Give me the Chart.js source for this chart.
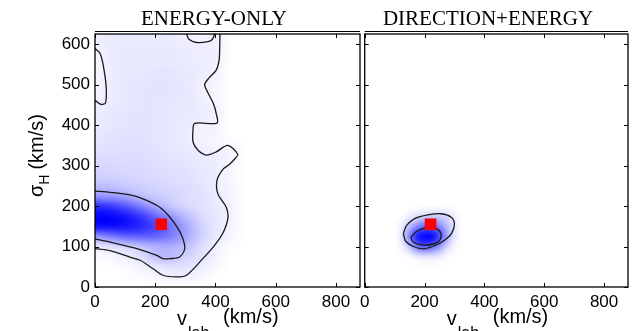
<!DOCTYPE html>
<html>
<head>
<meta charset="utf-8">
<script src="https://cdn.jsdelivr.net/npm/chart.js@4.4.1/dist/chart.umd.min.js"></script>
<style>
  html, body { margin: 0; padding: 0; background: #fff; }
  #wrap { position: relative; width: 634px; height: 331px; overflow: hidden; }
  #wrap canvas { position: absolute; top: 0; }
  #left { left: 0; }
  #right { left: 355px; }
</style>
</head>
<body>
<div id="wrap">
  <canvas id="left" width="362" height="331"></canvas>
  <canvas id="right" width="279" height="331"></canvas>
</div>
<script>
const xTicks = [0, 200, 400, 600, 800];
const yTicks = [0, 100, 200, 300, 400, 500, 600];
const vMax = 880;
const sigmaMax = 625;

// true halo parameters (v_lab, sigma_H)
const truePoint = [{ x: 220, y: 155 }];

// energy-only posterior density, 50 km/s x 25 km/s grid
const eoV = [0, 50, 100, 150, 200, 250, 300, 350, 400, 450, 500];
const eoSigma = [625, 600, 575, 550, 525, 500, 475, 450, 425, 400, 375, 350, 325,
                 300, 275, 250, 225, 200, 175, 150, 125, 100, 75, 50, 25, 0];
const eoDensity = [
  [.04, .05, .05, .05, .05, .05, .03, .02, .04, 0, 0],
  [.035, .05, .05, .05, .05, .05, .04, .035, .04, 0, 0],
  [.02, .045, .06, .06, .06, .06, .05, .045, .04, 0, 0],
  [.02, .045, .06, .06, .06, .06, .05, .045, .035, 0, 0],
  [.02, .045, .06, .06, .07, .07, .06, .045, .03, 0, 0],
  [.02, .045, .06, .07, .07, .07, .06, .035, .02, 0, 0],
  [.02, .045, .06, .07, .07, .07, .06, .04, .02, 0, 0],
  [.035, .05, .06, .07, .07, .06, .06, .045, .03, 0, 0],
  [.045, .06, .07, .07, .07, .06, .06, .045, .035, 0, 0],
  [.05, .06, .07, .07, .07, .06, .05, .035, .03, 0, 0],
  [.06, .07, .08, .08, .07, .06, .045, .025, .02, 0, 0],
  [.07, .08, .08, .08, .07, .06, .05, .035, .02, .015, 0],
  [.09, .09, .09, .09, .08, .07, .06, .05, .04, .025, 0],
  [.11, .11, .10, .10, .09, .08, .07, .06, .045, .02, 0],
  [.14, .13, .12, .11, .10, .09, .08, .06, .045, .02, 0],
  [.20, .19, .16, .14, .12, .10, .09, .07, .045, .02, 0],
  [.35, .33, .28, .20, .16, .13, .10, .08, .05, .025, 0],
  [.80, .75, .62, .45, .28, .17, .11, .08, .05, .03, 0],
  [1.0, .98, .90, .76, .55, .36, .21, .11, .06, .03, 0],
  [.95, .95, .92, .84, .70, .50, .30, .14, .06, .03, 0],
  [.35, .45, .55, .58, .56, .46, .30, .14, .06, .02, 0],
  [.05, .07, .12, .18, .24, .26, .20, .10, .04, .01, 0],
  [.01, .02, .04, .08, .20, .22, .13, .08, .03, 0, 0],
  [0, 0, .01, .03, .06, .08, .08, .05, .02, 0, 0],
  [0, 0, 0, .01, .02, .035, .035, .02, 0, 0, 0],
  [0, 0, 0, 0, 0, 0, 0, 0, 0, 0, 0]
];

// energy-only contour levels
const eoOuter = [[415, 625], [414, 590], [412, 560], [402, 535], [378, 516], [364, 500], [375, 480],
  [392, 455], [402, 430], [405, 405], [331, 404], [325, 383], [326, 357], [343, 337], [370, 326],
  [403, 334], [441, 350], [474, 328], [466, 318], [445, 302], [424, 290], [405, 263], [408, 230],
  [436, 197], [441, 169], [424, 132], [397, 103], [358, 70], [304, 29], [270, 25], [226, 29],
  [193, 45], [150, 66], [116, 74], [50, 90], [0, 95]];
const eoTopNotch = [[304, 625], [312, 612], [337, 604], [375, 606], [390, 612], [397, 625]];
const eoCorner = [[0, 589], [17, 577], [28, 545], [37, 495], [35, 455], [20, 451], [0, 461]];
const eoInner = [[0, 237], [50, 234], [127, 226], [172, 214], [215, 197], [248, 173], [276, 144],
  [292, 119], [298, 95], [281, 74], [248, 70], [226, 70], [205, 78], [160, 90], [116, 99],
  [50, 111], [0, 119]];

// direction+energy posterior density, 25 km/s grid
const deV = [100, 125, 150, 175, 200, 225, 250, 275, 300, 325];
const deSigma = [200, 175, 150, 125, 100, 75, 50];
const deDensity = [
  [0, 0, 0, 0, 0, 0, 0, 0, 0, 0],
  [0, 0, .04, .08, .12, .14, .14, .10, .04, 0],
  [0, .05, .20, .40, .55, .55, .42, .22, .06, 0],
  [0, .08, .45, .90, 1.0, 1.0, .70, .30, .06, 0],
  [0, .04, .18, .50, .62, .55, .35, .12, .02, 0],
  [0, 0, .01, .04, .06, .06, .04, .01, 0, 0],
  [0, 0, 0, 0, 0, 0, 0, 0, 0, 0]
];
const deOuter = [[129, 132], [140, 152], [167, 169], [211, 178], [255, 181], [288, 173], [300, 156],
  [290, 132], [266, 115], [233, 102], [197, 94], [162, 100], [137, 113], [129, 132]];
const deInner = [[154, 123], [173, 137], [206, 146], [239, 144], [255, 132], [250, 115],
  [222, 105], [189, 104], [162, 111], [154, 123]];

const sans = '"Liberation Sans", Arial, sans-serif';
const serif = '"Liberation Serif", "Times New Roman", serif';

// white -> blue shading of the density grid, upscaled smoothly onto the plot area
const heatPlugin = {
  id: 'heat',
  beforeDatasetsDraw(chart, args, opts) {
    const { xs, ys, z } = opts;
    const sx = chart.scales.x, sy = chart.scales.y, area = chart.chartArea;
    const cols = xs.length, rows = ys.length;
    const off = document.createElement('canvas');
    off.width = cols; off.height = rows;
    const octx = off.getContext('2d');
    const img = octx.createImageData(cols, rows);
    for (let r = 0; r < rows; r++) {
      for (let c = 0; c < cols; c++) {
        const t = Math.pow(Math.min(1, z[r][c]), 0.85);
        const k = (r * cols + c) * 4;
        img.data[k] = Math.round(255 * (1 - t));
        img.data[k + 1] = Math.round(255 * (1 - t));
        img.data[k + 2] = 255;
        img.data[k + 3] = 255;
      }
    }
    octx.putImageData(img, 0, 0);
    const cw = sx.getPixelForValue(xs[1]) - sx.getPixelForValue(xs[0]);
    const ch = sy.getPixelForValue(ys[1]) - sy.getPixelForValue(ys[0]);
    const ctx = chart.ctx;
    ctx.save();
    ctx.beginPath();
    ctx.rect(area.left, area.top, area.right - area.left, area.bottom - area.top);
    ctx.clip();
    ctx.imageSmoothingEnabled = true;
    ctx.imageSmoothingQuality = 'high';
    ctx.drawImage(off, sx.getPixelForValue(xs[0]) - cw / 2, sy.getPixelForValue(ys[0]) - ch / 2,
      cols * cw, rows * ch);
    ctx.restore();
  }
};

// box, inward ticks, panel title and axis titles
const framePlugin = {
  id: 'frame',
  afterDraw(chart, args, opts) {
    const ctx = chart.ctx, a = chart.chartArea;
    const sx = chart.scales.x, sy = chart.scales.y;
    ctx.save();
    ctx.strokeStyle = '#000';
    ctx.lineWidth = 1.3;
    ctx.strokeRect(a.left, a.top, a.right - a.left, a.bottom - a.top);
    ctx.lineWidth = 1;
    ctx.beginPath();
    ctx.moveTo(a.left, a.top - 2.5);
    ctx.lineTo(a.right, a.top - 2.5);
    const tl = 4;
    xTicks.forEach(v => {
      const p = Math.round(sx.getPixelForValue(v)) + 0.5;
      ctx.moveTo(p, a.bottom); ctx.lineTo(p, a.bottom - tl);
      ctx.moveTo(p, a.top); ctx.lineTo(p, a.top + tl);
    });
    yTicks.forEach(v => {
      const p = Math.round(sy.getPixelForValue(v)) + 0.5;
      ctx.moveTo(a.left, p); ctx.lineTo(a.left + tl, p);
      ctx.moveTo(a.right, p); ctx.lineTo(a.right - tl, p);
    });
    ctx.stroke();

    ctx.fillStyle = '#000';
    ctx.textBaseline = 'alphabetic';
    ctx.textAlign = 'center';
    ctx.font = '21px ' + serif;
    ctx.fillText(opts.title, opts.titleX, 25);

    // v_lab (km/s)
    ctx.textAlign = 'left';
    let x = a.left + 82;
    ctx.font = '20px ' + sans;
    ctx.fillText('v', x, 325);
    x += ctx.measureText('v').width + 1;
    ctx.font = '16px ' + sans;
    ctx.fillText('lab', x, 338);
    ctx.font = '20px ' + sans;
    ctx.fillText('(km/s)', a.left + 128, 323);

    // sigma_H (km/s)
    if (opts.yTitle) {
      ctx.translate(43, 197);
      ctx.rotate(-Math.PI / 2);
      ctx.font = '20px ' + sans;
      ctx.fillText('σ', 0, 0);
      let y = ctx.measureText('σ').width;
      ctx.font = '14px ' + sans;
      ctx.fillText('H', y, 6);
      y += ctx.measureText('H').width + 5;
      ctx.font = '20px ' + sans;
      ctx.fillText('(km/s)', y, 0);
    }
    ctx.restore();
  }
};

function contour(pts) {
  return {
    data: pts.map(([x, y]) => ({ x, y })),
    showLine: true,
    pointRadius: 0,
    borderColor: '#1a1a1a',
    borderWidth: 1.3,
    tension: 0.3,
    fill: false,
    order: 1
  };
}

function makePanel(id, cfg) {
  return new Chart(document.getElementById(id), {
    type: 'scatter',
    data: {
      datasets: [
        {
          data: truePoint,
          pointStyle: 'rect',
          pointRadius: 8.2,
          backgroundColor: '#ff0000',
          borderWidth: 0,
          order: 0
        },
        ...cfg.contours.map(contour)
      ]
    },
    options: {
      responsive: false,
      animation: false,
      events: [],
      layout: { autoPadding: false, padding: { top: 34, right: cfg.padRight, left: 0, bottom: 0 } },
      scales: {
        x: {
          type: 'linear', min: 0, max: vMax,
          afterBuildTicks: s => { s.ticks = xTicks.map(v => ({ value: v })); },
          afterFit: s => { s.height = 44; },
          grid: { display: false, drawTicks: false },
          border: { display: false },
          ticks: { color: '#000', font: { family: sans, size: 17 }, padding: 5, maxRotation: 0, autoSkip: false }
        },
        y: {
          type: 'linear', min: 0, max: sigmaMax,
          afterBuildTicks: s => { s.ticks = yTicks.map(v => ({ value: v })); },
          afterFit: s => { s.width = cfg.yWidth; },
          grid: { display: false, drawTicks: false },
          border: { display: false },
          ticks: { display: cfg.yLabels, color: '#000', font: { family: sans, size: 17 }, padding: 5, autoSkip: false }
        }
      },
      plugins: {
        legend: { display: false },
        tooltip: { enabled: false },
        heat: cfg.heat,
        frame: { title: cfg.title, titleX: cfg.titleX, yTitle: cfg.yLabels }
      }
    },
    plugins: [heatPlugin, framePlugin]
  });
}

makePanel('left', {
  title: 'ENERGY-ONLY', titleX: 214, yLabels: true, yWidth: 95, padRight: 2,
  heat: { xs: eoV, ys: eoSigma, z: eoDensity },
  contours: [eoOuter, eoTopNotch, eoCorner, eoInner]
});

makePanel('right', {
  title: 'DIRECTION+ENERGY', titleX: 133, yLabels: false, yWidth: 6, padRight: 6,
  heat: { xs: deV, ys: deSigma, z: deDensity },
  contours: [deOuter, deInner]
});
</script>
</body>
</html>
